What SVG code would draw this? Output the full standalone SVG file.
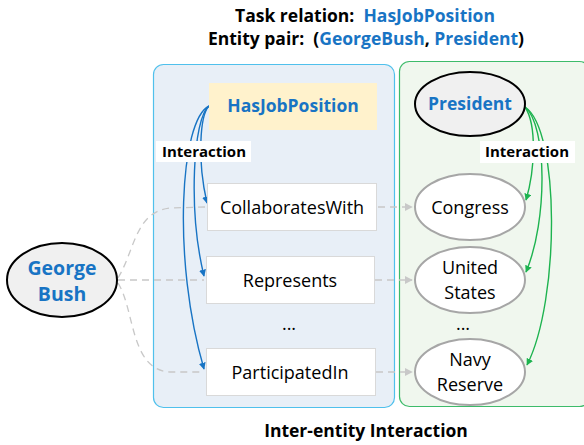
<svg xmlns="http://www.w3.org/2000/svg" width="584" height="445" viewBox="0 0 584 445">
<style>
text{font-family:"Open Sans","Liberation Sans",sans-serif;white-space:pre;}
.t{font-size:17.5px;font-weight:bold;fill:#000;}
.b{fill:#1874c4;}
.lbl{font-size:18px;fill:#000;}
.ia{font-size:15px;font-weight:bold;fill:#000;}
.rel{fill:#fff;stroke:#d9d9d9;stroke-width:1;}
.ent{fill:#fff;stroke:#a6a6a6;stroke-width:2;}
.key{fill:#f0f0f0;stroke:#000;stroke-width:2;}
.dash{fill:none;stroke:#c8c8c8;stroke-width:1.3;stroke-dasharray:7,5;}
.blue{fill:none;stroke:#1874c4;stroke-width:1.4;}
.green{fill:none;stroke:#1db34f;stroke-width:1.4;}
</style>
<defs>
<marker id="ab" viewBox="0 0 10 10" refX="9" refY="5" markerWidth="7" markerHeight="7" orient="auto" markerUnits="userSpaceOnUse"><path d="M0,0 L10,5 L0,10 z" fill="#1874c4"/></marker>
<marker id="ag" viewBox="0 0 10 10" refX="9" refY="5" markerWidth="7" markerHeight="7" orient="auto" markerUnits="userSpaceOnUse"><path d="M0,0 L10,5 L0,10 z" fill="#1db34f"/></marker>
<marker id="ay" viewBox="0 0 10 10" refX="9" refY="5" markerWidth="8" markerHeight="8" orient="auto" markerUnits="userSpaceOnUse"><path d="M0,0 L10,5 L0,10 z" fill="#c8c8c8"/></marker>
</defs>
<g id="title">
<text class="t" x="365" y="22" text-anchor="middle" xml:space="preserve">Task relation:  <tspan class="b">HasJobPosition</tspan></text>
<text class="t" x="366" y="45" text-anchor="middle" xml:space="preserve">Entity pair:  (<tspan class="b">GeorgeBush</tspan>, <tspan class="b">President</tspan>)</text>
</g>
<g id="panel-left"><rect x="153.5" y="64.5" width="241" height="343" rx="10" fill="#e8eff7" stroke="#4fc0ec" stroke-width="1.2"/></g>
<g id="panel-right"><rect x="399.5" y="61.5" width="190" height="345" rx="10" fill="#f0f7ee" stroke="#3dbb6a" stroke-width="1.2"/></g>
<g id="connectors">
<path class="dash" d="M118,278 C135,250 135,212 170,208 L205,207"/>
<path class="dash" d="M118,280 L204,280"/>
<path class="dash" d="M118,283 C135,310 130,370 170,372 L204,372"/>
<path class="dash" d="M378,207 L412,207" marker-end="url(#ay)"/>
<path class="dash" d="M375,280 L412,280" marker-end="url(#ay)"/>
<path class="dash" d="M376,372 L412,372" marker-end="url(#ay)"/>
<path class="blue" d="M209,106 C200,115 197,160 207,203" marker-end="url(#ab)"/>
<path class="blue" d="M209,106 C193,118 188,210 204,276" marker-end="url(#ab)"/>
<path class="blue" d="M209,106 C180,120 172,260 204,369" marker-end="url(#ab)"/>
<path class="green" d="M525,107 C537,125 535,170 526,200" marker-end="url(#ag)"/>
<path class="green" d="M525,107 C547,125 548,220 526,272" marker-end="url(#ag)"/>
<path class="green" d="M525,107 C560,130 560,300 527,365" marker-end="url(#ag)"/>
</g>
<g id="HasJobPosition"><rect x="209" y="83" width="168" height="47" fill="#fff2cc"/><text class="t b" x="293" y="112" text-anchor="middle">HasJobPosition</text></g>
<g id="President"><ellipse class="key" cx="470" cy="104" rx="55" ry="32"/><text class="t b" x="470" y="110" text-anchor="middle">President</text></g>
<g id="interaction-left"><rect x="156" y="141" width="95" height="21" fill="#fff"/><text class="ia" x="204" y="157" text-anchor="middle">Interaction</text></g>
<g id="interaction-right"><rect x="480" y="141" width="95" height="22" fill="#fff"/><text class="ia" x="527" y="157" text-anchor="middle">Interaction</text></g>
<g id="CollaboratesWith"><rect class="rel" x="207.5" y="183.5" width="169" height="47"/><text class="lbl" x="292" y="214" text-anchor="middle">CollaboratesWith</text></g>
<g id="Represents"><rect class="rel" x="206.5" y="256.5" width="168" height="47"/><text class="lbl" x="290" y="287" text-anchor="middle">Represents</text></g>
<g id="ParticipatedIn"><rect class="rel" x="206.5" y="348.5" width="169" height="47"/><text class="lbl" x="290" y="379" text-anchor="middle">ParticipatedIn</text></g>
<g id="dots"><text class="lbl" x="289" y="330" text-anchor="middle">...</text><text class="lbl" x="463" y="330" text-anchor="middle">...</text></g>
<g id="Congress"><ellipse class="ent" cx="470" cy="207" rx="55" ry="33"/><text class="lbl" x="470" y="214" text-anchor="middle">Congress</text></g>
<g id="UnitedStates"><ellipse class="ent" cx="470" cy="280" rx="55" ry="33"/><text class="lbl" x="470" y="274" text-anchor="middle">United</text><text class="lbl" x="470" y="299" text-anchor="middle">States</text></g>
<g id="NavyReserve"><ellipse class="ent" cx="470" cy="372" rx="55" ry="33"/><text class="lbl" x="470" y="366" text-anchor="middle">Navy</text><text class="lbl" x="470" y="391" text-anchor="middle">Reserve</text></g>
<g id="GeorgeBush"><ellipse class="key" cx="62" cy="280" rx="55" ry="37"/><text class="t b" x="62" y="275" text-anchor="middle" style="font-size:19.5px">George</text><text class="t b" x="62" y="301" text-anchor="middle" style="font-size:19.5px">Bush</text></g>
<g id="footer"><text class="t" x="366" y="437" text-anchor="middle">Inter-entity Interaction</text></g>
</svg>
